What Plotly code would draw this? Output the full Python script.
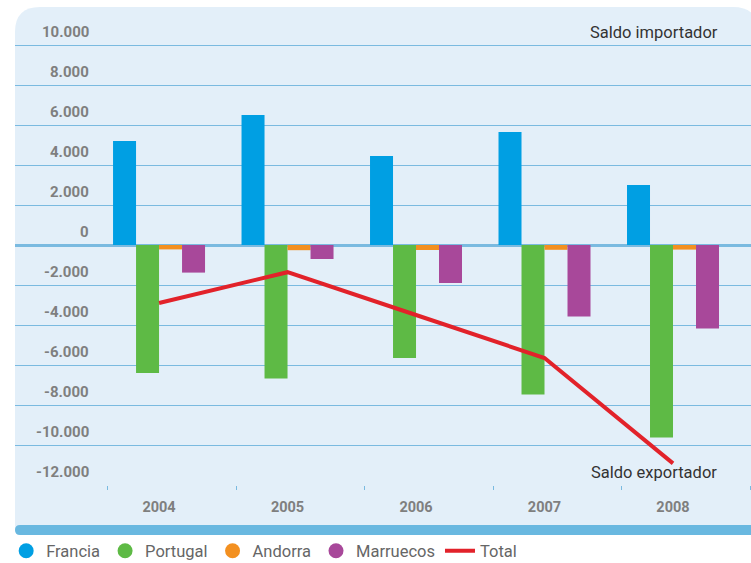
import plotly.graph_objects as go

# data (values in the chart's units)
YEARS = [2004, 2005, 2006, 2007, 2008]
FRANCIA = [5200, 6500, 4450, 5650, 3000]
PORTUGAL = [-6400, -6680, -5650, -7480, -9630]
ANDORRA = [-220, -260, -250, -240, -230]
MARRUECOS = [-1380, -700, -1900, -3580, -4180]
TOTAL = [-2900, -1360, -3500, -5650, -10920]
Y_TICKS = [10000, 8000, 6000, 4000, 2000, 0, -2000, -4000, -6000,
           -8000, -10000, -12000]

COLORS = {
    "Francia": "#009FE3",
    "Portugal": "#5EBA45",
    "Andorra": "#F39020",
    "Marruecos": "#A8489A",
    "Total": "#E2222A",
    "panel": "#E3EFF9",
    "grid": "#7ABAE0",
    "bar": "#69B8E0",
    "tick": "#7F7F7F",
}
FONT = "Roboto, 'DejaVu Sans', sans-serif"

W, H = 751, 563
M_L, M_R, M_T, M_B = 15, 0, 5, 78
PW, PH = W - M_L - M_R, H - M_T - M_B


def px_x(p):
    return (p - M_L) / PW


def px_y(p):
    return (H - M_B - p) / PH


fig = go.Figure()

series = [("Francia", FRANCIA), ("Portugal", PORTUGAL),
          ("Andorra", ANDORRA), ("Marruecos", MARRUECOS)]
for name, vals in series:
    fig.add_trace(go.Bar(x=YEARS, y=vals, name=name, showlegend=False,
                         marker=dict(color=COLORS[name], line_width=0)))

fig.add_trace(go.Scatter(x=YEARS, y=TOTAL, mode="lines", name="Total",
                         line=dict(color=COLORS["Total"], width=4),
                         legendrank=5))

# legend entries with round markers
for i, (name, _) in enumerate(series):
    fig.add_trace(go.Scatter(x=[None], y=[None], mode="markers", name=name,
                             marker=dict(color=COLORS[name], size=15, symbol="circle"),
                             legendrank=i + 1))

# panel background with rounded top corners, and the blue bar at the bottom
x0, x1 = px_x(15), px_x(758)
y0, y1 = px_y(530), px_y(7)
rx, ry = 25 / PW, 25 / PH
panel = (f"M {x0},{y0} L {x0},{y1 - ry} Q {x0},{y1} {x0 + rx},{y1} "
         f"L {x1 - rx},{y1} Q {x1},{y1} {x1},{y1 - ry} L {x1},{y0} Z")
fig.add_shape(type="path", path=panel, xref="paper", yref="paper",
              fillcolor=COLORS["panel"], line_width=0, layer="below")
b0, b1 = px_y(535), px_y(525)
bx = 5 / PW
bm = (b0 + b1) / 2
bar = (f"M {x0 + bx},{b0} Q {x0},{b0} {x0},{bm} Q {x0},{b1} {x0 + bx},{b1} "
       f"L {x1},{b1} L {x1},{b0} Z")
fig.add_shape(type="path", path=bar, xref="paper", yref="paper",
              fillcolor=COLORS["bar"], line_width=0, layer="below")

# y tick labels sit above their gridlines, right-aligned
for v in Y_TICKS:
    fig.add_annotation(x=px_x(91), xref="paper", xanchor="right",
                       y=v, yref="y", yanchor="middle", yshift=13,
                       text=f"{v:,}".replace(",", "."), showarrow=False,
                       font=dict(family=FONT, size=15, color=COLORS["tick"],
                                 weight="bold"))

fig.add_annotation(x=px_x(720), xref="paper", xanchor="right",
                   y=px_y(32), yref="paper", yanchor="middle",
                   text="Saldo importador", showarrow=False,
                   font=dict(family=FONT, size=16.5, color="#333333"))
fig.add_annotation(x=px_x(719), xref="paper", xanchor="right",
                   y=px_y(472), yref="paper", yanchor="middle",
                   text="Saldo exportador", showarrow=False,
                   font=dict(family=FONT, size=16.5, color="#333333"))

fig.update_layout(
    width=W, height=H,
    margin=dict(l=M_L, r=M_R, t=M_T, b=M_B, autoexpand=False),
    paper_bgcolor="white", plot_bgcolor="rgba(0,0,0,0)",
    font=dict(family=FONT, size=16, color="#666666"),
    barmode="group", bargap=0.284, bargroupgap=0,
    legend=dict(orientation="h", x=-0.012, xanchor="left",
                y=px_y(551), yanchor="middle", traceorder="normal",
                font=dict(size=16.5, color="#666666"), itemwidth=30,
                bgcolor="rgba(0,0,0,0)"),
)
fig.update_xaxes(range=[2002.879, 2008.607], showgrid=False, zeroline=False,
                 showline=False, tickmode="array", tickvals=YEARS,
                 ticktext=[str(y) for y in YEARS], ticks="",
                 ticklabelstandoff=11, automargin=False,
                 tickfont=dict(family=FONT, size=14.5, color=COLORS["tick"],
                               weight="bold"),
                 minor=dict(ticks="outside", ticklen=4, tickwidth=1,
                            tickcolor=COLORS["grid"], tickmode="linear",
                            tick0=2003.6, dtick=1, showgrid=False))
fig.update_yaxes(range=[-12000, 12000], tickmode="array", tickvals=Y_TICKS,
                 showticklabels=False, ticks="", showgrid=True,
                 gridcolor=COLORS["grid"], gridwidth=1, automargin=False,
                 zeroline=True, zerolinecolor=COLORS["grid"], zerolinewidth=2.5,
                 showline=False)

# drop the browser's default page margin so the figure fills the window
fig.write_html("out.html", config={"displayModeBar": False},
               post_script="document.body.style.margin = '0';")
